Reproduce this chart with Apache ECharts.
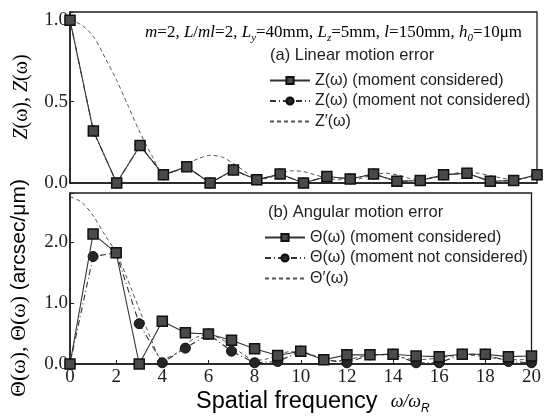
<!DOCTYPE html>
<html>
<head>
<meta charset="utf-8">
<script src="https://cdn.jsdelivr.net/npm/echarts@6/dist/echarts.min.js"></script>
<style>
  html, body { margin: 0; padding: 0; background: #fff; }
  #chart { width: 544px; height: 416px; }
</style>
</head>
<body>
<div id="chart"></div>
<script>
// Spatial frequency (ω/ωR) at which the transfer values are evaluated
const freq = [0, 1, 2, 3, 4, 5, 6, 7, 8, 9, 10, 11, 12, 13, 14, 15, 16, 17, 18, 19, 20];

// (a) Linear motion error
const zMoment   = [1.0, 0.32, 0.0, 0.23, 0.05, 0.10, 0.0, 0.08, 0.02, 0.055, 0.0, 0.04, 0.025, 0.055, 0.01, 0.015, 0.05, 0.06, 0.01, 0.015, 0.05];
const zNoMoment = [1.0, 0.32, 0.0, 0.23, 0.05, 0.10, 0.0, 0.08, 0.02, 0.055, 0.0, 0.04, 0.025, 0.055, 0.01, 0.015, 0.05, 0.06, 0.01, 0.015, 0.05];
const zRefFreq  = [0, 0.5, 1, 1.5, 2, 2.5, 3, 3.5, 4, 4.5, 5, 5.5, 6, 6.5, 7, 7.5, 8, 8.5, 9, 9.5, 10, 10.5, 11, 11.5, 12, 12.5, 13, 13.5, 14, 14.5, 15, 15.5, 16, 16.5, 17, 17.5, 18, 18.5, 19, 19.5, 20];
const zRef      = [1.0, 0.97, 0.9, 0.77, 0.63, 0.47, 0.31, 0.17, 0.06, 0.07, 0.115, 0.15, 0.17, 0.16, 0.12, 0.07, 0.025, 0.03, 0.06, 0.075, 0.07, 0.05, 0.03, 0.02, 0.02, 0.03, 0.05, 0.06, 0.05, 0.03, 0.02, 0.03, 0.045, 0.06, 0.065, 0.06, 0.045, 0.03, 0.02, 0.03, 0.05];

// (b) Angular motion error
const thMoment   = [0, 2.13, 1.82, 0, 0.70, 0.51, 0.49, 0.39, 0.25, 0.14, 0.21, 0.07, 0.15, 0.15, 0.16, 0.13, 0.12, 0.16, 0.16, 0.12, 0.13];
const thNoMoment = [0, 1.76, 1.82, 0.66, 0.02, 0.26, 0.49, 0.21, 0.02, 0.04, 0.21, 0.07, 0.02, 0.15, 0.16, 0.02, 0.02, 0.16, 0.16, 0.04, 0.02];
const thRefFreq  = [0, 0.5, 1, 1.5, 2, 2.5, 3, 3.5, 4, 4.5, 5, 5.5, 6, 6.5, 7, 7.5, 8, 8.5, 9, 9.5, 10, 10.5, 11, 11.5, 12, 12.5, 13, 13.5, 14, 14.5, 15, 15.5, 16, 16.5, 17, 17.5, 18, 18.5, 19, 19.5, 20];
const thRef      = [2.74, 2.65, 2.43, 2.12, 1.82, 1.38, 0.9, 0.42, 0.08, 0.15, 0.32, 0.44, 0.48, 0.42, 0.3, 0.16, 0.06, 0.08, 0.15, 0.2, 0.2, 0.15, 0.08, 0.05, 0.07, 0.11, 0.14, 0.15, 0.14, 0.1, 0.07, 0.08, 0.1, 0.13, 0.14, 0.14, 0.12, 0.09, 0.07, 0.07, 0.09];

// Axis tick values
const xTicks = [0, 2, 4, 6, 8, 10, 12, 14, 16, 18, 20];
const zTicks = [0, 0.5, 1.0];
const thTicks = [0, 1.0, 2.0];

const pairs = (xs, ys) => xs.map((x, i) => [x, ys[i]]);

const SERIF = '"Liberation Serif", "DejaVu Serif", serif';
const SANS = '"Liberation Sans", Arial, sans-serif';
const INK = '#1e1e1e';

const names = {
  zM: 'Z(ω) (moment considered)',
  zN: 'Z(ω) (moment not considered)',
  zR: 'Z′(ω)',
  tM: 'Θ(ω) (moment considered)',
  tN: 'Θ(ω) (moment not considered)',
  tR: 'Θ′(ω)'
};

function tickFormatter(ticks) {
  return v => ticks.some(t => Math.abs(t - v) < 1e-6) ? v.toFixed(1) : '';
}

function xAxisCfg(gridIndex, showLabels) {
  return {
    type: 'value', gridIndex, min: 0, max: 20, interval: 2,
    axisLine: { show: true, lineStyle: { color: INK, width: 1.6 } },
    axisTick: { show: showLabels, inside: true, length: 4, lineStyle: { color: INK } },
    splitLine: { show: false },
    axisLabel: {
      show: showLabels, margin: 4,
      fontFamily: SERIF, fontSize: 19, color: INK,
      formatter: v => xTicks.includes(v) ? String(v) : ''
    }
  };
}

function yAxisCfg(gridIndex, max, interval, ticks) {
  return {
    type: 'value', gridIndex, min: 0, max, interval,
    axisLine: { show: true, lineStyle: { color: INK, width: 1.6 } },
    axisTick: { show: true, inside: true, length: 4, lineStyle: { color: INK } },
    splitLine: { show: false },
    axisLabel: {
      margin: 2, fontFamily: SERIF, fontSize: 19, color: INK,
      formatter: tickFormatter(ticks)
    }
  };
}

const squareStyle = { color: '#4a4a4a', borderColor: '#111', borderWidth: 1.5 };
const circleStyle = { color: '#262626', borderColor: '#0d0d0d', borderWidth: 1 };

function markerSeries(name, xi, data, symbol, lineType, z) {
  return {
    name, type: 'line', xAxisIndex: xi, yAxisIndex: xi,
    data, symbol, symbolSize: 10, showSymbol: true, z,
    itemStyle: symbol === 'rect' ? squareStyle : circleStyle,
    lineStyle: { color: '#333', width: 1.1, type: lineType },
    emphasis: { disabled: true }, animation: false
  };
}

function refSeries(name, xi, data) {
  return {
    name, type: 'line', xAxisIndex: xi, yAxisIndex: xi,
    data, symbol: 'none', smooth: 0.3, z: 2,
    itemStyle: { color: '#555' },
    lineStyle: { color: '#555', width: 1, type: [4, 3] },
    emphasis: { disabled: true }, animation: false
  };
}

const legendText = { fontFamily: SANS, fontSize: 16, color: INK, lineHeight: 19 };
// dashed reference curves show only their line in the legend
const lineOnly = name => ({ name, itemStyle: { opacity: 0 } });

const option = {
  backgroundColor: '#fff',
  animation: false,
  grid: [
    { left: 70, right: 7, top: 12, height: 171, show: true, borderColor: INK, borderWidth: 1.3, containLabel: false },
    { left: 70, right: 7, top: 193, height: 171, show: true, borderColor: INK, borderWidth: 1.3, containLabel: false }
  ],
  xAxis: [xAxisCfg(0, false), xAxisCfg(1, true)],
  yAxis: [yAxisCfg(0, 1.05, 0.5, zTicks), yAxisCfg(1, 2.8, 1, thTicks)],
  legend: [
    {
      data: [names.zM, names.zN, lineOnly(names.zR)], orient: 'vertical',
      left: 264, top: 66, itemWidth: 40, itemHeight: 9, itemGap: 1.5,
      textStyle: legendText, selectedMode: false
    },
    {
      data: [names.tM, names.tN, lineOnly(names.tR)], orient: 'vertical',
      left: 259, top: 223, itemWidth: 40, itemHeight: 9, itemGap: 1.5,
      textStyle: legendText, selectedMode: false
    }
  ],
  series: [
    refSeries(names.zR, 0, pairs(zRefFreq, zRef)),
    markerSeries(names.zN, 0, pairs(freq, zNoMoment), 'circle', [6, 3, 1, 3], 3),
    markerSeries(names.zM, 0, pairs(freq, zMoment), 'rect', 'solid', 4),
    refSeries(names.tR, 1, pairs(thRefFreq, thRef)),
    markerSeries(names.tN, 1, pairs(freq, thNoMoment), 'circle', [6, 3, 1, 3], 3),
    markerSeries(names.tM, 1, pairs(freq, thMoment), 'rect', 'solid', 4)
  ],
  graphic: [
    {
      type: 'text', x: 522, y: 33, z: 10,
      style: {
        text: '{i|m}{n|=2, }{i|L}{n|/}{i|ml}{n|=2, }{i|L}{s|y}{n|=40mm, }{i|L}{s|z}{n|=5mm, }{i|l}{n|=150mm, }{i|h}{s|0}{n|=10μm}',
        align: 'right', verticalAlign: 'middle',
        rich: {
          n: { fontFamily: SERIF, fontSize: 17, color: INK, lineHeight: 21 },
          i: { fontFamily: SERIF, fontSize: 17, fontStyle: 'italic', color: INK, lineHeight: 21 },
          s: { fontFamily: SERIF, fontSize: 11, fontStyle: 'italic', color: INK, lineHeight: 21, verticalAlign: 'bottom' }
        }
      }
    },
    {
      type: 'text', x: 270, y: 55, z: 10,
      style: { text: '(a) Linear motion error', font: '16.5px ' + SANS, fill: INK, verticalAlign: 'middle' }
    },
    {
      type: 'text', x: 268, y: 212, z: 10,
      style: { text: '(b) Angular motion error', font: '16.5px ' + SANS, fill: INK, verticalAlign: 'middle' }
    },
    {
      type: 'text', x: 22, y: 97, rotation: Math.PI / 2, z: 10,
      style: {
        text: '{i|Z}{n|(ω), }{i|Z}{n|(ω)}',
        align: 'center', verticalAlign: 'middle',
        rich: {
          n: { fontFamily: SERIF, fontSize: 20, color: INK },
          i: { fontFamily: SERIF, fontSize: 20, fontStyle: 'italic', color: INK }
        }
      }
    },
    {
      type: 'text', x: 19, y: 288, rotation: Math.PI / 2, z: 10,
      style: {
        text: '{n|Θ(ω), Θ(ω) }{s|(arcsec/μm)}',
        align: 'center', verticalAlign: 'middle',
        rich: {
          n: { fontFamily: SERIF, fontSize: 22, color: INK },
          s: { fontFamily: SANS, fontSize: 21, color: INK }
        }
      }
    },
    {
      type: 'text', x: 196, y: 402, z: 10,
      style: {
        text: '{s|Spatial frequency  }{w|ω/ω}{r|R}',
        verticalAlign: 'middle',
        rich: {
          s: { fontFamily: SANS, fontSize: 23.5, color: INK, lineHeight: 26 },
          w: { fontFamily: SERIF, fontSize: 18, fontStyle: 'italic', color: INK, lineHeight: 26 },
          r: { fontFamily: SANS, fontSize: 12, fontStyle: 'italic', color: INK, lineHeight: 26, verticalAlign: 'bottom' }
        }
      }
    }
  ]
};

const chart = echarts.init(document.getElementById('chart'), null, { renderer: 'canvas' });
chart.setOption(option);
</script>
</body>
</html>
